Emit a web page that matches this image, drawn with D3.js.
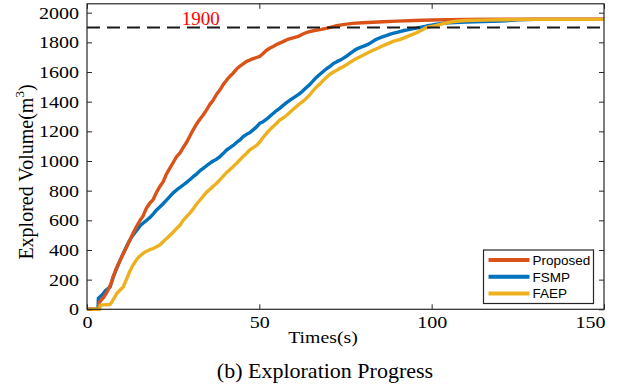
<!DOCTYPE html>
<html>
<head>
<meta charset="utf-8">
<script src="https://cdn.jsdelivr.net/npm/d3@7"></script>
<style>
  html, body { margin: 0; padding: 0; background: #fff; }
  svg { display: block; }
</style>
</head>
<body>
<div id="chart"></div>
<script>
// ── Data ───────────────────────────────────────────────────────────────────
const xTicks = [0, 50, 100, 150];
const yTicks = [0, 200, 400, 600, 800, 1000, 1200, 1400, 1600, 1800, 2000];
const threshold = 1900;
const thresholdLabelAt = 33; // seconds

const proposed = [
  [0,0],[3.4,0],[3.5,45],[5,85],[6,125],[7,175],[7.6,220],[8.5,275],[9.6,330],[10.6,380],
  [11.6,425],[12.5,470],[13.4,515],[14.4,560],[15.4,600],[16.3,630],[17.2,680],[18.2,715],
  [19.2,740],[20.2,790],[21.2,830],[22.1,860],[23,910],[24,950],[25,990],[26,1030],[27,1055],
  [27.9,1090],[29,1130],[30,1175],[30.8,1210],[31.8,1250],[32.7,1280],[33.7,1310],[34.7,1345],
  [35.6,1380],[36.6,1410],[37.6,1450],[38.6,1480],[39.5,1515],[40.5,1545],[41.4,1570],
  [42.4,1592],[43.4,1620],[44.4,1640],[45.3,1655],[46.3,1672],[47.2,1680],[48.2,1690],
  [49.2,1698],[50.1,1705],[51.1,1725],[52,1745],[53,1760],[54,1772],[55,1785],[55.9,1795],
  [56.9,1805],[58,1818],[59,1825],[60,1832],[61.3,1840],[62.5,1855],[63.5,1865],[64.6,1872],
  [66,1880],[68,1888],[70,1898],[72,1910],[74.3,1920],[77,1928],[80,1932],[83,1936],
  [85.9,1939],[90,1943],[95,1947],[100,1951],[105,1953],[110,1955],[120,1956],[150,1956]
];

const fsmp = [
  [0,0],[3.2,0],[3.3,75],[4.5,100],[5.5,130],[6.7,150],[7.5,210],[8.5,270],[9.6,330],
  [10.6,380],[11.6,430],[12.5,470],[13.5,505],[14.5,535],[15.5,565],[16.5,585],[17.3,600],
  [18.3,620],[19.3,645],[20.2,670],[21.2,692],[22.1,712],[23,735],[24,760],[25,785],[26,805],
  [27,822],[28,840],[29,858],[29.9,875],[30.8,894],[31.8,912],[32.8,935],[33.7,950],
  [34.7,968],[35.7,985],[36.6,1000],[37.6,1012],[38.6,1030],[39.5,1050],[40.5,1074],
  [41.5,1090],[42.4,1105],[43.4,1125],[44.3,1140],[45.3,1164],[46.3,1180],[47.2,1190],
  [48.2,1210],[49.2,1230],[50.1,1254],[51.1,1265],[52,1280],[53,1300],[54,1320],[55,1340],
  [55.9,1355],[56.9,1375],[58,1395],[59,1412],[60,1428],[61.3,1448],[62.5,1470],[63.5,1492],
  [64.6,1515],[65.6,1540],[66.6,1565],[67.6,1585],[68.6,1605],[69.5,1622],[70.5,1638],
  [71.5,1658],[72.5,1670],[73.4,1680],[74.3,1692],[75.5,1710],[76.5,1728],[77.5,1745],
  [78.5,1758],[79.5,1768],[80.5,1776],[81.5,1786],[82.5,1800],[83.5,1815],[84.5,1826],
  [85.5,1835],[86.8,1845],[88,1855],[89,1862],[90,1868],[91,1874],[92,1880],[93,1884],
  [94,1890],[95.6,1896],[97,1903],[98.5,1910],[100,1916],[101.5,1922],[103.3,1929],
  [105,1932],[110,1937],[115,1940],[120,1943],[125,1952],[130,1955],[150,1955]
];

const faep = [
  [0,0],[3.7,0],[3.8,28],[5,30],[6.7,32],[7.5,60],[8.6,105],[9.6,130],[10.5,150],[11.5,205],
  [12.5,260],[13.4,300],[14.4,335],[15.3,358],[16.3,378],[17.3,392],[18.2,402],[19.2,410],
  [20.2,422],[21.2,435],[22.1,455],[23.1,478],[24.1,500],[25,520],[26,545],[27,568],
  [27.9,600],[28.9,625],[29.9,650],[30.9,680],[31.8,710],[32.8,737],[33.8,765],[34.7,790],
  [35.7,810],[36.6,830],[37.6,850],[38.6,875],[39.6,900],[40.5,922],[41.5,942],[42.4,962],
  [43.4,985],[44.3,1007],[45.3,1030],[46.3,1052],[47.2,1074],[48.2,1090],[49.2,1105],
  [50.2,1130],[51.1,1160],[52.1,1187],[53,1210],[54,1232],[55,1255],[55.9,1276],[56.9,1290],
  [58,1310],[59,1330],[60,1352],[61.3,1378],[62.5,1400],[63.5,1420],[64.6,1445],[65.6,1475],
  [66.6,1500],[67.6,1520],[68.6,1545],[69.5,1565],[70.5,1585],[71.5,1600],[72.5,1612],
  [73.4,1625],[74.3,1636],[75.5,1652],[76.5,1668],[77.5,1682],[78.5,1695],[79.5,1706],
  [80.5,1718],[81.5,1730],[82.5,1742],[83.5,1752],[84.5,1762],[85.5,1774],[86.8,1786],
  [88,1798],[89,1808],[90.7,1818],[92,1830],[93,1840],[94.3,1852],[95.6,1865],[97,1882],
  [98.5,1900],[100,1908],[101.4,1914],[103,1924],[105,1935],[107,1942],[110,1947],
  [115,1950],[120,1952],[123,1953],[130,1955],[150,1955]
];

const seriesNames = ["Proposed", "FSMP", "FAEP"];
const seriesColors = ["#D95319", "#0072BD", "#EDB120"];

// ── Layout ────────────────────────────────────────────────────────────────
const W = 618, H = 386;
const AX = { left: 87, right: 604, top: 3.8, bottom: 309.3 };
const SERIF = "'Liberation Serif', 'Times New Roman', serif";
const SANS = "'Liberation Sans', Arial, sans-serif";
const STRETCH = 1.18; // the figure's serif glyphs are wider than Times

const x = d3.scaleLinear().domain([0, 150]).range([AX.left, AX.right]);
const y = d3.scaleLinear().domain([0, 2060]).range([AX.bottom, AX.top]);

const svg = d3.select("#chart").append("svg").attr("width", W).attr("height", H);

// ── Curves (FSMP under Proposed, FAEP on top) ──────────────────────────────
const line = d3.line().x((d) => x(d[0])).y((d) => y(d[1]));
const drawOrder = [[fsmp, 1], [proposed, 0], [faep, 2]];
svg.append("g")
  .selectAll("path")
  .data(drawOrder)
  .join("path")
  .attr("d", (d) => line(d[0]))
  .attr("fill", "none")
  .attr("stroke", (d) => seriesColors[d[1]])
  .attr("stroke-width", 3.4)
  .attr("stroke-linejoin", "round");

// ── 1900 threshold ────────────────────────────────────────────────────────
svg.append("line")
  .attr("x1", x(0)).attr("x2", x(150))
  .attr("y1", y(threshold)).attr("y2", y(threshold))
  .attr("stroke", "#1a1a1a")
  .attr("stroke-width", 2)
  .attr("stroke-dasharray", "13 7");

svg.append("text")
  .attr("x", x(thresholdLabelAt))
  .attr("y", y(threshold) - 3)
  .attr("text-anchor", "middle")
  .attr("font-family", SERIF)
  .attr("font-size", 19)
  .attr("fill", "#ff0000")
  .text(threshold);

// ── Axes ──────────────────────────────────────────────────────────────────
const axisColor = "#262626";
const fmt = d3.format("d");
function styleAxis(g) {
  g.select(".domain").remove();
  g.selectAll("line").attr("stroke", axisColor);
}

svg.append("g")
  .attr("transform", `translate(0,${AX.bottom})`)
  .call(d3.axisBottom(x).tickValues(xTicks).tickFormat(fmt)
    .tickSizeInner(-5).tickSizeOuter(0).tickPadding(7))
  .call(styleAxis)
  .call((g) => g.selectAll("text")
    .attr("font-family", SERIF).attr("font-size", 17).attr("fill", "#000")
    .attr("transform", `scale(${STRETCH},1)`)
    // last label is pulled inside the figure, as in the original
    .filter((d) => d === xTicks[xTicks.length - 1])
    .attr("text-anchor", "end")
    .attr("x", 1 / STRETCH));

svg.append("g")
  .attr("transform", `translate(${AX.left},0)`)
  .call(d3.axisLeft(y).tickValues(yTicks).tickFormat(fmt).tickSizeInner(-5).tickSizeOuter(0))
  .call(styleAxis)
  .call((g) => g.selectAll("text")
    .attr("font-family", SERIF).attr("font-size", 17).attr("fill", "#000")
    .attr("x", -8 / STRETCH)
    .attr("transform", `scale(${STRETCH},1)`));

svg.append("g")
  .attr("transform", `translate(0,${AX.top})`)
  .call(d3.axisTop(x).tickValues(xTicks).tickSizeInner(-5).tickSizeOuter(0).tickFormat(""))
  .call(styleAxis);

svg.append("g")
  .attr("transform", `translate(${AX.right},0)`)
  .call(d3.axisRight(y).tickValues(yTicks).tickSizeInner(-5).tickSizeOuter(0).tickFormat(""))
  .call(styleAxis);

svg.append("rect")
  .attr("x", AX.left).attr("y", AX.top)
  .attr("width", AX.right - AX.left).attr("height", AX.bottom - AX.top)
  .attr("fill", "none")
  .attr("stroke", axisColor)
  .attr("stroke-width", 1.2);

// ── Axis labels and caption ───────────────────────────────────────────────
svg.append("text")
  .attr("transform", `translate(323,343) scale(1.13,1)`)
  .attr("text-anchor", "middle")
  .attr("font-family", SERIF)
  .attr("font-size", 17.5)
  .text("Times(s)");

const yLabel = svg.append("text")
  .attr("transform", "translate(33,172) rotate(-90)")
  .attr("text-anchor", "middle")
  .attr("font-family", SERIF)
  .attr("font-size", 20);
yLabel.append("tspan").text("Explored Volume(m");
yLabel.append("tspan").attr("font-size", 13).attr("dy", -9).text("3");
yLabel.append("tspan").attr("dy", 9).text(")");

svg.append("text")
  .attr("x", 325)
  .attr("y", 378)
  .attr("text-anchor", "middle")
  .attr("font-family", SERIF)
  .attr("font-size", 22)
  .text("(b) Exploration Progress");

// ── Legend ────────────────────────────────────────────────────────────────
const legend = svg.append("g").attr("transform", "translate(483.5,250)");
legend.append("rect")
  .attr("width", 110).attr("height", 53.5)
  .attr("fill", "#fff")
  .attr("stroke", axisColor)
  .attr("stroke-width", 1.2);

const item = legend.selectAll("g.item")
  .data(seriesNames)
  .join("g")
  .attr("class", "item")
  .attr("transform", (d, i) => `translate(0,${10 + i * 16.7})`);

item.append("line")
  .attr("x1", 5).attr("x2", 46)
  .attr("stroke", (d, i) => seriesColors[i])
  .attr("stroke-width", 4);

item.append("text")
  .attr("x", 49)
  .attr("y", 5)
  .attr("font-family", SANS)
  .attr("font-size", 13.5)
  .attr("fill", "#000")
  .text((d) => d);
</script>
</body>
</html>
